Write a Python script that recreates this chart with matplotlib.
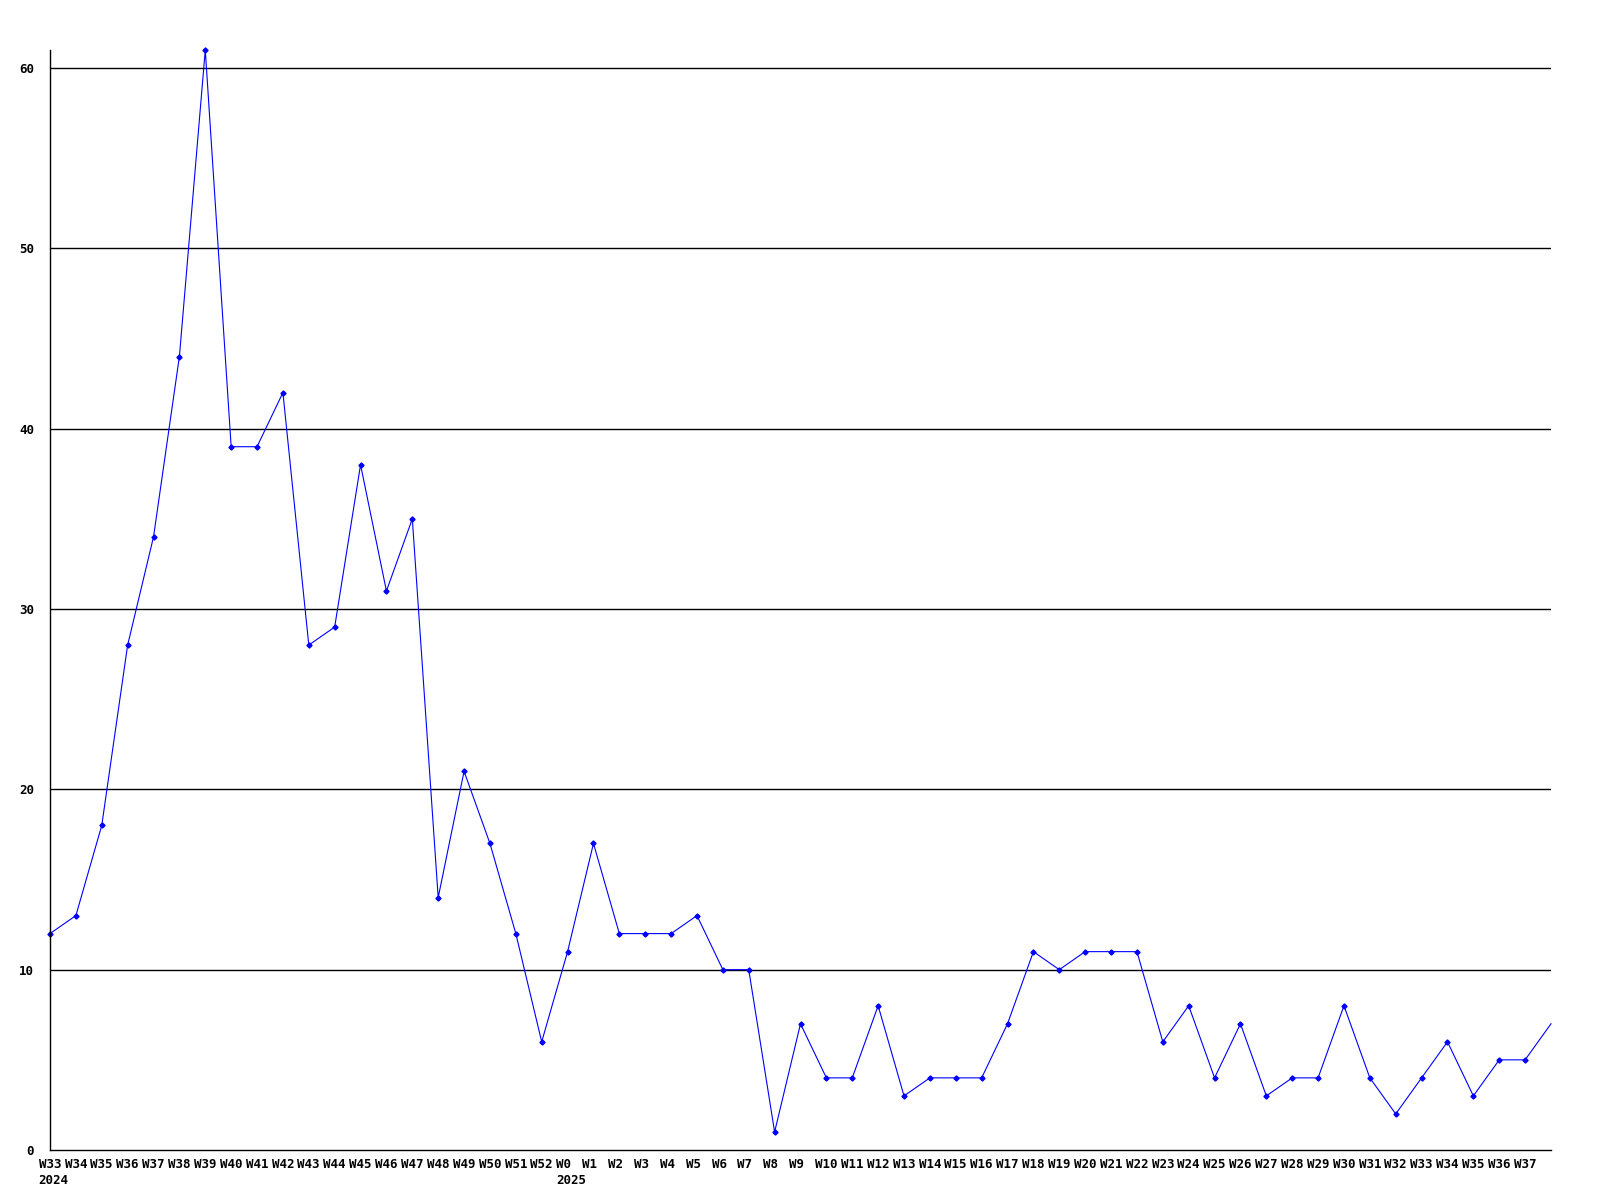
import matplotlib
matplotlib.use("Agg")
import matplotlib.pyplot as plt

# weekly counts, W33 2024 .. W38 2025 (last point sits on the right edge)
weeks = (["W%d" % w for w in range(33, 53)] + ["W0"] +
         ["W%d" % w for w in range(1, 39)])
counts = [12, 13, 18, 28, 34, 44, 61, 39, 39, 42,
          28, 29, 38, 31, 35, 14, 21, 17, 12, 6,
          11,
          17, 12, 12, 12, 13, 10, 10, 1, 7, 4,
          4, 8, 3, 4, 4, 4, 7, 11, 10, 11,
          11, 11, 6, 8, 4, 7, 3, 4, 4, 8,
          4, 2, 4, 6, 3, 5, 5, 7]
year_labels = ["2024", "2025"]
year_starts = [0, 20]  # index of first week of each year
yticks = [0, 10, 20, 30, 40, 50, 60]

plt.rcParams["font.family"] = ["DejaVu Sans Mono"]
plt.rcParams["font.weight"] = "bold"

fig = plt.figure(figsize=(16, 12), dpi=100)
ax = fig.add_axes([50 / 1600, 50 / 1200, 1501 / 1600, 1100 / 1200])

xs = list(range(len(counts)))
ax.plot(xs, counts, color="#0000ff", lw=0.8, marker="D", ms=2.6,
        markevery=slice(0, len(counts) - 1), clip_on=False)

ax.set_xlim(0, len(counts) - 1)
ax.set_ylim(0, max(counts))

for y in yticks[1:]:
    ax.axhline(y, color="black", lw=1, zorder=0)

ax.spines["top"].set_visible(False)
ax.spines["right"].set_visible(False)
ax.spines["left"].set_linewidth(1)
ax.spines["bottom"].set_linewidth(1)

ax.set_yticks(yticks)
ax.set_yticklabels([str(v) for v in yticks], fontsize=9, fontweight="bold")
ax.tick_params(axis="y", length=0, pad=11.5)
ax.set_xticks([])

# week labels start 1.5 chars left of their point, years below them
for i, wk in enumerate(weeks[:-1]):
    ax.annotate(wk, xy=(i, 0), xycoords=("data", "axes fraction"),
                xytext=(-11.3, -8), textcoords="offset pixels",
                ha="left", va="top", fontsize=9, fontweight="bold",
                annotation_clip=False)

for i, yr in zip(year_starts, year_labels):
    ax.annotate(yr, xy=(i, 0), xycoords=("data", "axes fraction"),
                xytext=(-11.3, -24), textcoords="offset pixels",
                ha="left", va="top", fontsize=9, fontweight="bold",
                annotation_clip=False)

fig.savefig("out.png", dpi=100, facecolor="white")
